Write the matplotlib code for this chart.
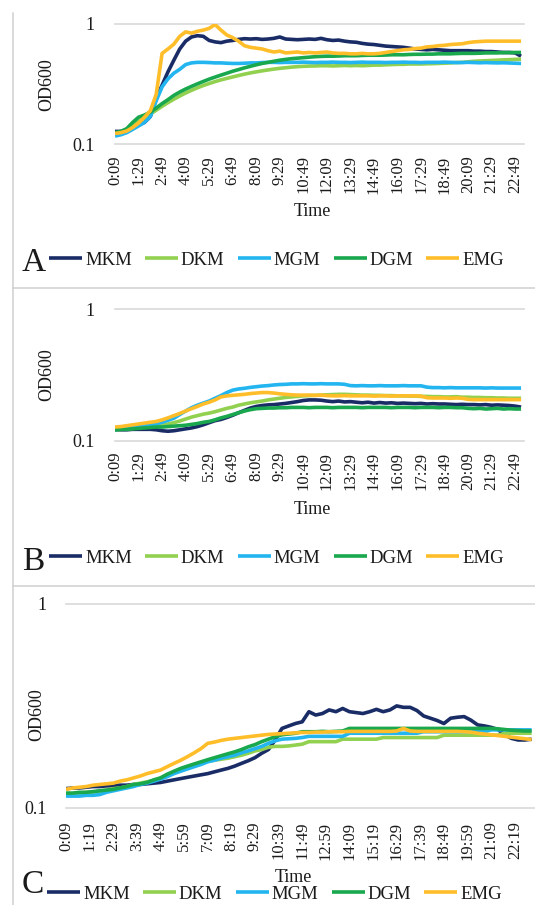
import numpy as np
import matplotlib
matplotlib.use("Agg")
import matplotlib.pyplot as plt
from matplotlib.lines import Line2D
from matplotlib.ticker import NullLocator

plt.rcParams['font.family'] = ['Liberation Serif', 'DejaVu Serif']

W, H, DPI = 535, 905, 100

series_names = ["MKM", "DKM", "MGM", "DGM", "EMG"]
series_colors = ["#1A2C66", "#92D050", "#23B5F0", "#19A84E", "#FFBE29"]

# sampling grid (minutes since start of the run)
minutes = np.arange(9, 1390, 20)

labels_AB = ["0:09", "1:29", "2:49", "4:09", "5:29", "6:49", "8:09", "9:29", "10:49",
             "12:09", "13:29", "14:49", "16:09", "17:29", "18:49", "20:09", "21:29", "22:49"]
labels_C = ["0:09", "1:19", "2:29", "3:39", "4:49", "5:59", "7:09", "8:19", "9:29", "10:39",
            "11:49", "12:59", "14:09", "15:19", "16:29", "17:39", "18:49", "19:59", "21:09", "22:19"]

# ---------------- Panel A ----------------
A_MKM = [0.128, 0.128, 0.132, 0.138, 0.145, 0.152, 0.170, 0.240, 0.310, 0.400,
         0.500, 0.620, 0.720, 0.780, 0.800, 0.790, 0.730, 0.710, 0.700, 0.720,
         0.730, 0.745, 0.755, 0.750, 0.755, 0.745, 0.750, 0.760, 0.780, 0.750,
         0.745, 0.740, 0.745, 0.750, 0.745, 0.760, 0.740, 0.730, 0.735, 0.720,
         0.710, 0.705, 0.690, 0.680, 0.675, 0.665, 0.655, 0.650, 0.645, 0.640,
         0.630, 0.620, 0.615, 0.610, 0.615, 0.610, 0.605, 0.600, 0.600, 0.600,
         0.600, 0.595, 0.595, 0.590, 0.590, 0.585, 0.580, 0.580, 0.575, 0.540]
A_DKM = [0.123, 0.127, 0.132, 0.143, 0.155, 0.165, 0.178, 0.192, 0.207, 0.222,
         0.237, 0.252, 0.267, 0.281, 0.295, 0.308, 0.320, 0.332, 0.343, 0.353,
         0.363, 0.373, 0.383, 0.392, 0.400, 0.408, 0.415, 0.422, 0.428, 0.433,
         0.438, 0.442, 0.445, 0.447, 0.448, 0.450, 0.450, 0.448, 0.450, 0.452,
         0.450, 0.452, 0.450, 0.452, 0.455, 0.455, 0.458, 0.460, 0.462, 0.462,
         0.465, 0.465, 0.465, 0.467, 0.468, 0.470, 0.472, 0.475, 0.478, 0.480,
         0.485, 0.490, 0.493, 0.495, 0.498, 0.500, 0.503, 0.505, 0.508, 0.510]
A_MGM = [0.117, 0.120, 0.125, 0.133, 0.142, 0.152, 0.170, 0.230, 0.300, 0.350,
         0.390, 0.420, 0.460, 0.475, 0.480, 0.480, 0.478, 0.475, 0.475, 0.472,
         0.470, 0.470, 0.472, 0.475, 0.475, 0.478, 0.480, 0.480, 0.478, 0.480,
         0.480, 0.480, 0.482, 0.480, 0.478, 0.480, 0.480, 0.482, 0.480, 0.480,
         0.478, 0.480, 0.482, 0.480, 0.480, 0.480, 0.478, 0.480, 0.480, 0.482,
         0.480, 0.480, 0.478, 0.480, 0.480, 0.480, 0.482, 0.480, 0.478, 0.478,
         0.480, 0.478, 0.476, 0.478, 0.476, 0.475, 0.476, 0.474, 0.472, 0.470]
A_DGM = [0.125, 0.128, 0.135, 0.152, 0.168, 0.175, 0.185, 0.200, 0.218, 0.235,
         0.255, 0.272, 0.288, 0.303, 0.318, 0.333, 0.348, 0.362, 0.376, 0.390,
         0.405, 0.418, 0.432, 0.445, 0.458, 0.470, 0.480, 0.490, 0.500, 0.508,
         0.515, 0.520, 0.525, 0.530, 0.535, 0.538, 0.540, 0.540, 0.542, 0.545,
         0.545, 0.545, 0.548, 0.550, 0.550, 0.550, 0.552, 0.555, 0.555, 0.555,
         0.558, 0.560, 0.560, 0.562, 0.562, 0.565, 0.565, 0.565, 0.568, 0.570,
         0.570, 0.570, 0.572, 0.575, 0.575, 0.575, 0.578, 0.578, 0.580, 0.580]
A_EMG = [0.123, 0.125, 0.129, 0.138, 0.150, 0.168, 0.190, 0.260, 0.570, 0.620,
         0.680, 0.790, 0.860, 0.840, 0.870, 0.890, 0.920, 0.990, 0.890, 0.810,
         0.770, 0.720, 0.660, 0.640, 0.630, 0.620, 0.600, 0.585, 0.595, 0.575,
         0.580, 0.585, 0.575, 0.580, 0.575, 0.580, 0.585, 0.575, 0.570, 0.570,
         0.565, 0.565, 0.570, 0.565, 0.565, 0.570, 0.580, 0.590, 0.600, 0.610,
         0.615, 0.625, 0.630, 0.645, 0.650, 0.660, 0.665, 0.675, 0.680, 0.685,
         0.700, 0.710, 0.715, 0.720, 0.720, 0.720, 0.720, 0.720, 0.720, 0.720]

# ---------------- Panel B ----------------
B_MKM = [0.121, 0.121, 0.121, 0.122, 0.122, 0.122, 0.122, 0.121, 0.119, 0.118,
         0.119, 0.121, 0.123, 0.125, 0.128, 0.132, 0.137, 0.142, 0.145, 0.150,
         0.156, 0.163, 0.170, 0.177, 0.182, 0.185, 0.187, 0.188, 0.190, 0.192,
         0.195, 0.198, 0.202, 0.204, 0.204, 0.203, 0.200, 0.198, 0.200, 0.197,
         0.198, 0.196, 0.194, 0.196, 0.193, 0.195, 0.193, 0.194, 0.192, 0.193,
         0.192, 0.191, 0.192, 0.190, 0.191, 0.190, 0.190, 0.189, 0.188, 0.189,
         0.188, 0.188, 0.187, 0.188, 0.186, 0.187, 0.186, 0.185, 0.183, 0.180]
B_DKM = [0.121, 0.122, 0.123, 0.124, 0.126, 0.127, 0.128, 0.129, 0.131, 0.134,
         0.137, 0.141, 0.146, 0.151, 0.155, 0.159, 0.162, 0.166, 0.171, 0.176,
         0.180, 0.186, 0.190, 0.194, 0.197, 0.200, 0.204, 0.207, 0.210, 0.213,
         0.215, 0.217, 0.219, 0.220, 0.221, 0.222, 0.223, 0.224, 0.225, 0.225,
         0.224, 0.223, 0.222, 0.222, 0.221, 0.221, 0.220, 0.220, 0.219, 0.219,
         0.218, 0.218, 0.217, 0.217, 0.216, 0.216, 0.215, 0.215, 0.216, 0.214,
         0.214, 0.213, 0.213, 0.212, 0.212, 0.211, 0.211, 0.210, 0.210, 0.210]
B_MGM = [0.121, 0.123, 0.125, 0.127, 0.128, 0.130, 0.132, 0.134, 0.138, 0.143,
         0.148, 0.158, 0.168, 0.178, 0.186, 0.193, 0.200, 0.210, 0.220, 0.232,
         0.242, 0.247, 0.250, 0.254, 0.257, 0.260, 0.262, 0.265, 0.267, 0.268,
         0.270, 0.270, 0.271, 0.270, 0.270, 0.271, 0.270, 0.270, 0.270, 0.268,
         0.262, 0.261, 0.262, 0.261, 0.261, 0.262, 0.261, 0.261, 0.261, 0.262,
         0.261, 0.261, 0.261, 0.255, 0.253, 0.253, 0.252, 0.253, 0.252, 0.252,
         0.252, 0.252, 0.252, 0.251, 0.252, 0.251, 0.251, 0.251, 0.251, 0.251]
B_DGM = [0.121, 0.122, 0.122, 0.123, 0.124, 0.125, 0.126, 0.127, 0.127, 0.128,
         0.129, 0.130, 0.131, 0.133, 0.135, 0.138, 0.140, 0.144, 0.149, 0.153,
         0.158, 0.163, 0.168, 0.172, 0.175, 0.176, 0.177, 0.177, 0.178, 0.178,
         0.179, 0.179, 0.179, 0.178, 0.179, 0.179, 0.179, 0.178, 0.179, 0.179,
         0.179, 0.179, 0.178, 0.179, 0.179, 0.179, 0.179, 0.178, 0.179, 0.179,
         0.179, 0.178, 0.179, 0.179, 0.179, 0.178, 0.179, 0.179, 0.178, 0.178,
         0.176, 0.175, 0.176, 0.174, 0.175, 0.176, 0.174, 0.175, 0.174, 0.174]
B_EMG = [0.127, 0.128, 0.130, 0.132, 0.134, 0.136, 0.138, 0.140, 0.144, 0.149,
         0.155, 0.161, 0.168, 0.175, 0.182, 0.190, 0.196, 0.204, 0.215, 0.219,
         0.221, 0.223, 0.225, 0.228, 0.230, 0.232, 0.232, 0.230, 0.227, 0.225,
         0.223, 0.222, 0.222, 0.222, 0.221, 0.222, 0.220, 0.219, 0.219, 0.220,
         0.219, 0.219, 0.219, 0.219, 0.218, 0.219, 0.219, 0.218, 0.219, 0.219,
         0.219, 0.219, 0.218, 0.212, 0.211, 0.211, 0.211, 0.210, 0.211, 0.210,
         0.206, 0.205, 0.205, 0.205, 0.205, 0.205, 0.205, 0.205, 0.205, 0.205]

# ---------------- Panel C ----------------
C_MKM = [0.124, 0.125, 0.125, 0.126, 0.127, 0.127, 0.128, 0.128, 0.129, 0.129,
         0.130, 0.130, 0.131, 0.132, 0.133, 0.135, 0.137, 0.139, 0.141, 0.143,
         0.145, 0.147, 0.150, 0.153, 0.156, 0.160, 0.165, 0.170, 0.176, 0.185,
         0.193, 0.215, 0.245, 0.252, 0.259, 0.264, 0.296, 0.285, 0.290, 0.302,
         0.296, 0.307, 0.296, 0.293, 0.290, 0.296, 0.304, 0.296, 0.302, 0.316,
         0.311, 0.311, 0.300, 0.282, 0.275, 0.268, 0.259, 0.275, 0.278, 0.280,
         0.269, 0.255, 0.252, 0.248, 0.242, 0.228, 0.219, 0.215, 0.215, 0.217]
C_DKM = [0.117, 0.117, 0.118, 0.119, 0.119, 0.121, 0.122, 0.124, 0.125, 0.127,
         0.130, 0.132, 0.134, 0.136, 0.140, 0.145, 0.149, 0.153, 0.156, 0.160,
         0.165, 0.169, 0.171, 0.173, 0.175, 0.178, 0.181, 0.185, 0.190, 0.193,
         0.198, 0.200, 0.200, 0.201, 0.203, 0.205, 0.211, 0.211, 0.211, 0.211,
         0.211, 0.217, 0.217, 0.217, 0.217, 0.217, 0.217, 0.221, 0.221, 0.221,
         0.221, 0.221, 0.221, 0.221, 0.221, 0.221, 0.227, 0.227, 0.227, 0.227,
         0.227, 0.227, 0.227, 0.227, 0.227, 0.232, 0.232, 0.232, 0.232, 0.232]
C_MGM = [0.114, 0.114, 0.114, 0.115, 0.115, 0.116, 0.119, 0.121, 0.123, 0.125,
         0.127, 0.130, 0.132, 0.135, 0.138, 0.142, 0.147, 0.151, 0.155, 0.159,
         0.163, 0.168, 0.171, 0.175, 0.178, 0.181, 0.186, 0.190, 0.195, 0.200,
         0.207, 0.213, 0.217, 0.218, 0.219, 0.221, 0.224, 0.224, 0.224, 0.224,
         0.224, 0.224, 0.232, 0.232, 0.232, 0.232, 0.232, 0.232, 0.232, 0.232,
         0.232, 0.232, 0.232, 0.236, 0.236, 0.236, 0.236, 0.236, 0.236, 0.236,
         0.236, 0.236, 0.236, 0.241, 0.241, 0.241, 0.241, 0.241, 0.241, 0.241]
C_DGM = [0.118, 0.118, 0.119, 0.119, 0.120, 0.121, 0.122, 0.123, 0.125, 0.127,
         0.130, 0.131, 0.133, 0.137, 0.140, 0.146, 0.151, 0.156, 0.160, 0.164,
         0.168, 0.172, 0.176, 0.180, 0.184, 0.188, 0.193, 0.199, 0.204, 0.211,
         0.217, 0.223, 0.228, 0.230, 0.232, 0.236, 0.236, 0.236, 0.237, 0.236,
         0.237, 0.238, 0.245, 0.245, 0.245, 0.245, 0.245, 0.245, 0.245, 0.245,
         0.245, 0.245, 0.245, 0.245, 0.245, 0.245, 0.245, 0.245, 0.245, 0.245,
         0.245, 0.245, 0.245, 0.245, 0.244, 0.242, 0.240, 0.239, 0.238, 0.238]
C_EMG = [0.123, 0.125, 0.126, 0.127, 0.129, 0.130, 0.131, 0.132, 0.135, 0.137,
         0.140, 0.143, 0.147, 0.150, 0.153, 0.159, 0.165, 0.171, 0.178, 0.186,
         0.195, 0.207, 0.210, 0.214, 0.217, 0.219, 0.221, 0.223, 0.225, 0.227,
         0.229, 0.230, 0.231, 0.232, 0.233, 0.234, 0.234, 0.235, 0.235, 0.236,
         0.236, 0.236, 0.237, 0.237, 0.237, 0.237, 0.237, 0.237, 0.237, 0.238,
         0.245, 0.238, 0.237, 0.237, 0.237, 0.237, 0.237, 0.237, 0.237, 0.236,
         0.235, 0.232, 0.230, 0.228, 0.226, 0.224, 0.222, 0.220, 0.218, 0.216]


def to_min(s):
    h, m = s.split(":")
    return int(h) * 60 + int(m)


def fx(px):
    return px / W


def fy(py):
    return 1 - py / H


fig = plt.figure(figsize=(W / DPI, H / DPI), dpi=DPI)
fig.patch.set_facecolor("white")

TXT = "#1a1a1a"
GRID = "#d9d9d9"

panels = [
    dict(letter="A", data=[A_MKM, A_DKM, A_MGM, A_DGM, A_EMG], labels=labels_AB,
         box=(115, 524, 24, 144.3), ytpad=14.5, xtpad=8, ylab=(47, 85), xlab=(312, 212),
         leg=(49, 260), let=(22, 271)),
    dict(letter="B", data=[B_MKM, B_DKM, B_MGM, B_DGM, B_EMG], labels=labels_AB,
         box=(115, 524, 309, 440.7), ytpad=14.5, xtpad=8, ylab=(47, 375), xlab=(312, 510),
         leg=(49, 558), let=(22, 570)),
    dict(letter="C", data=[C_MKM, C_DKM, C_MGM, C_DGM, C_EMG], labels=labels_C,
         box=(66, 535, 604, 807.7), ytpad=13.7, xtpad=10, ylab=(37, 715), xlab=(293, 877),
         leg=(47, 894), let=(22, 893)),
]

for p in panels:
    l, r, t, b = p["box"]
    ax = fig.add_axes([fx(l), fy(b), (r - l) / W, (b - t) / H])
    handles = []
    for vals, name, col in zip(p["data"], series_names, series_colors):
        h, = ax.plot(minutes, vals, color=col, lw=2.6, label=name,
                     solid_joinstyle="round", solid_capstyle="butt")
        handles.append(h)
    ax.set_yscale("log")
    ax.set_ylim(0.1, 1)
    ax.set_xlim(9, 1399)
    ax.set_yticks([0.1, 1], labels=["0.1", "1"])
    ax.yaxis.set_minor_locator(NullLocator())
    ax.xaxis.set_minor_locator(NullLocator())
    ax.set_xticks([to_min(s) for s in p["labels"]], labels=p["labels"], rotation=90)
    ax.tick_params(axis="x", length=0, pad=p["xtpad"], labelsize=12, labelcolor=TXT)
    ax.tick_params(axis="y", length=0, pad=p["ytpad"], labelsize=13, labelcolor=TXT)
    for s in ax.spines.values():
        s.set_visible(False)
    ax.grid(axis="y", color=GRID, lw=1.2)
    ax.grid(axis="x", visible=False)
    ax.set_axisbelow(True)
    for gl in ax.yaxis.get_gridlines():
        gl.set_clip_on(False)

    ax.set_ylabel("OD600", fontsize=13, color=TXT)
    ax.yaxis.set_label_coords(fx(p["ylab"][0]), fy(p["ylab"][1]), transform=fig.transFigure)
    ax.yaxis.label.set_verticalalignment("center")
    ax.yaxis.label.set_horizontalalignment("center")
    ax.set_xlabel("Time", fontsize=13, color=TXT)
    ax.xaxis.set_label_coords(fx(p["xlab"][0]), fy(p["xlab"][1]), transform=fig.transFigure)
    ax.xaxis.label.set_verticalalignment("center")

    fig.legend(handles, series_names, loc="center left",
               bbox_to_anchor=(fx(p["leg"][0]), fy(p["leg"][1])),
               ncol=5, frameon=False, fontsize=13.5, handlelength=1.76,
               handletextpad=0.16, columnspacing=0.7, borderpad=0,
               borderaxespad=0, labelcolor=TXT)
    fig.text(fx(p["let"][0]), fy(p["let"][1]), p["letter"], fontsize=24,
             color=TXT, ha="left", va="baseline")

# panel frame lines
fig.add_artist(Line2D([fx(12.5), fx(12.5)], [fy(13), fy(905)], color="#d0d0d0", lw=1.1,
                      transform=fig.transFigure))
for yy in (288, 586):
    fig.add_artist(Line2D([fx(12.5), fx(535)], [fy(yy), fy(yy)], color="#d0d0d0", lw=1.1,
                          transform=fig.transFigure))

fig.savefig("out.png", dpi=DPI, facecolor="white")
